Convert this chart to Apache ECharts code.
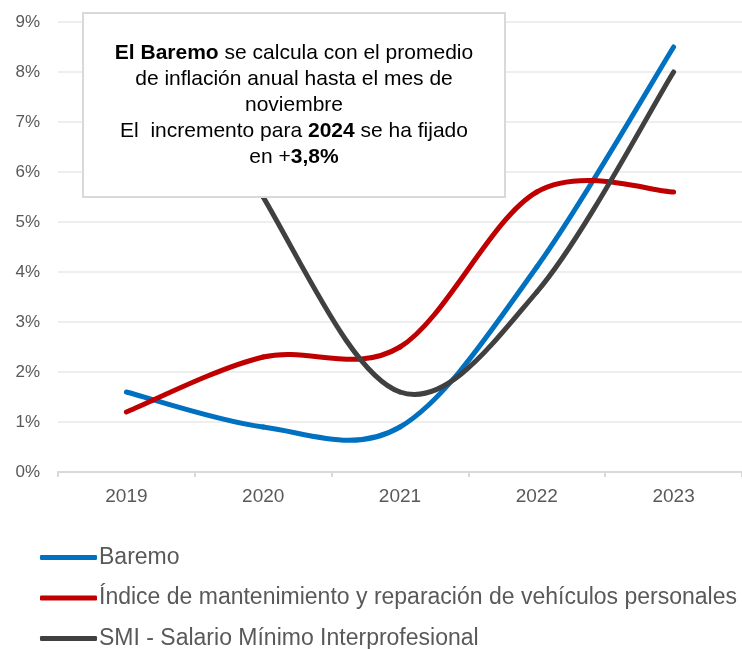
<!DOCTYPE html>
<html>
<head>
<meta charset="utf-8">
<script src="https://cdn.jsdelivr.net/npm/echarts@6/dist/echarts.min.js"></script>
<style>
  html, body { margin: 0; padding: 0; background: #fff; }
  #chart { width: 742px; height: 649px; }
</style>
</head>
<body>
<div id="chart"></div>
<script>
// años
var years = ['2019', '2020', '2021', '2022', '2023'];
// valores en %
var baremo = [1.6, 0.9, 0.9, 4.1, 8.5];
var indiceVehiculos = [1.2, 2.3, 2.5, 5.6, 5.6];
var smi = [11, 5.5, 1.6, 3.6, 8.0]; // 2019 queda fuera de escala (oculto tras el cuadro)
var yTicks = [0, 1, 2, 3, 4, 5, 6, 7, 8, 9];

var names = [
  'Baremo',
  'Índice de mantenimiento y reparación de vehículos personales',
  'SMI - Salario Mínimo Interprofesional'
];
var colors = ['#0070c0', '#c00000', '#404040'];
var font = '"Liberation Sans", Arial, sans-serif';

var chart = echarts.init(document.getElementById('chart'));

// linea suavizada tipo Excel (catmull-rom), un tramo por punto
function smoothRender(values, color) {
  return function (params, api) {
    var i = params.dataIndex;
    var n = values.length;
    if (i >= n - 1) return null;
    var p0 = api.coord([Math.max(i - 1, 0), values[Math.max(i - 1, 0)]]);
    var p1 = api.coord([i, values[i]]);
    var p2 = api.coord([i + 1, values[i + 1]]);
    var p3 = api.coord([Math.min(i + 2, n - 1), values[Math.min(i + 2, n - 1)]]);
    var cs = params.coordSys;
    return {
      type: 'group',
      clipPath: { type: 'rect', shape: { x: cs.x, y: cs.y, width: cs.width, height: cs.height } },
      children: [{
        type: 'bezierCurve',
        shape: {
          x1: p1[0], y1: p1[1],
          x2: p2[0], y2: p2[1],
          cpx1: p1[0] + (p2[0] - p0[0]) / 6, cpy1: p1[1] + (p2[1] - p0[1]) / 6,
          cpx2: p2[0] - (p3[0] - p1[0]) / 6, cpy2: p2[1] - (p3[1] - p1[1]) / 6
        },
        style: { stroke: color, lineWidth: 5, fill: null, lineCap: 'round' }
      }]
    };
  };
}

function lineSerie(name, values, color) {
  return {
    name: name,
    type: 'custom',
    renderItem: smoothRender(values, color),
    itemStyle: { color: color },
    encode: { x: 0, y: 1 },
    data: values.map(function (v, i) { return [i, v]; })
  };
}

chart.setOption({
  backgroundColor: '#fff',
  animation: false,
  color: colors,
  grid: { left: 58, right: -10, top: 22, bottom: 177 },
  xAxis: {
    type: 'category',
    data: years,
    boundaryGap: true,
    axisLine: { lineStyle: { color: '#d9d9d9', width: 2 } },
    axisTick: { show: true, length: 5, lineStyle: { color: '#d9d9d9', width: 2 } },
    axisLabel: { color: '#595959', fontSize: 19, margin: 15, fontFamily: font }
  },
  yAxis: {
    type: 'value',
    min: yTicks[0],
    max: yTicks[yTicks.length - 1],
    interval: 1,
    axisLine: { show: false },
    axisTick: { show: false },
    splitLine: { lineStyle: { color: '#eeeeee', width: 2 } },
    axisLabel: {
      color: '#595959', fontSize: 17, margin: 18, fontFamily: font,
      formatter: function (v) { return v + '%'; }
    }
  },
  legend: {
    orient: 'vertical',
    left: 40,
    top: 546,
    height: 130,
    padding: 0,
    itemGap: 17.5,
    itemWidth: 57,
    itemHeight: 5,
    icon: 'roundRect',
    textStyle: { color: '#595959', fontSize: 23, lineHeight: 22, fontFamily: font, padding: [0, 0, 0, -3] },
    data: names
  },
  series: [
    lineSerie(names[0], baremo, colors[0]),
    lineSerie(names[1], indiceVehiculos, colors[1]),
    lineSerie(names[2], smi, colors[2])
  ],
  graphic: [
    {
      type: 'rect',
      z: 100,
      shape: { x: 83, y: 13, width: 422, height: 184 },
      style: { fill: '#fff', stroke: '#d9d9d9', lineWidth: 2 }
    },
    {
      type: 'text',
      z: 101,
      x: 294,
      y: 105,
      style: {
        text: '{b|El Baremo} se calcula con el promedio\nde inflación anual hasta el mes de\nnoviembre\nEl  incremento para {b|2024} se ha fijado\nen +{b|3,8%}',
        align: 'center',
        verticalAlign: 'middle',
        fill: '#000',
        fontSize: 21,
        lineHeight: 26,
        fontFamily: font,
        rich: {
          b: { fontWeight: 'bold', fontSize: 21, lineHeight: 26, fontFamily: font, fill: '#000' }
        }
      }
    }
  ]
});
</script>
</body>
</html>
